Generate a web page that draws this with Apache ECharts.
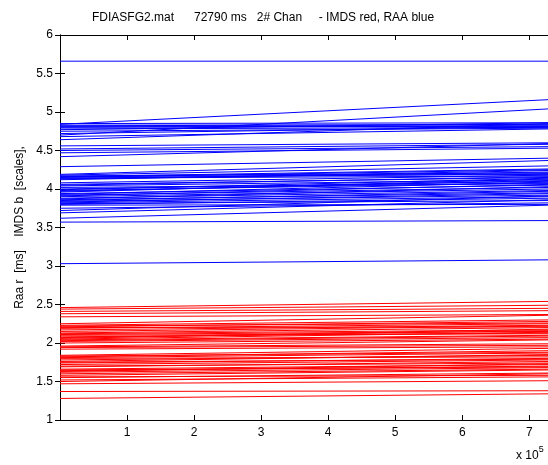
<!DOCTYPE html>
<html>
<head>
<meta charset="utf-8">
<script src="https://cdn.jsdelivr.net/npm/echarts@6/dist/echarts.min.js"></script>
<style>html,body{margin:0;padding:0;background:#fff}#c{width:548px;height:465px}</style>
</head>
<body>
<div id="c"></div>
<script>
var titleText = 'FDIASFG2.mat      72790 ms   2# Chan     - IMDS red, RAA blue';
var yAxisName = 'Raa r  [ms]    IMDS b  [scales],';
var xMax = 727900;
var xTicks = ['1', '2', '3', '4', '5', '6', '7'];
// blue lines (RAA): value at start and at end of record
var blueStart = [5.66, 4.84, 4.70, 4.85, 4.82, 4.80, 4.78, 4.75, 4.72, 4.68, 4.64, 4.56, 4.52, 4.50, 4.47, 4.42,
  4.29, 4.19, 4.18, 4.16, 4.15, 4.14, 4.13, 4.08, 4.06, 4.04, 4.00, 3.98, 3.96, 3.94, 3.92, 3.90, 3.88, 3.86,
  3.84, 3.82, 3.80, 3.79, 3.75, 3.72, 3.69, 3.62, 3.57, 3.03,
  3.99, 3.97, 3.93, 3.91, 3.87, 3.85, 3.83, 4.17, 4.16, 4.14, 4.12, 4.05, 4.02, 3.81, 4.83, 4.77, 4.81];
var blueEnd = [5.66, 5.16, 5.04, 4.86, 4.84, 4.82, 4.80, 4.79, 4.81, 4.78, 4.85, 4.60, 4.58, 4.55, 4.53, 4.59,
  4.40, 4.37, 4.30, 4.26, 4.25, 4.20, 4.22, 4.18, 4.15, 4.12, 4.10, 4.08, 4.13, 4.05, 4.02, 4.00, 3.98, 3.95,
  3.92, 3.90, 3.88, 3.80, 3.82, 3.91, 3.86, 3.79, 3.59, 3.08,
  4.14, 4.11, 4.09, 4.06, 4.03, 3.97, 3.94, 4.21, 4.19, 4.17, 4.24, 4.16, 4.07, 3.85, 4.83, 4.86, 4.81];
// red lines (IMDS)
var redStart = [2.46, 2.44, 2.41, 2.38, 2.34, 2.25, 2.23, 2.21, 2.19, 2.17, 2.13, 2.11, 2.08, 2.06, 2.04, 2.02,
  2.00, 1.96, 1.94, 1.92, 1.84, 1.82, 1.81, 1.76, 1.74, 1.72, 1.70, 1.66, 1.64, 1.62, 1.60, 1.58, 1.56, 1.52,
  1.50, 1.47, 1.37, 1.28,
  2.22, 2.20, 2.15, 2.12, 2.10, 2.07, 2.05, 2.03, 1.95, 1.83, 1.80, 1.78, 1.75, 1.69, 1.65, 1.63, 1.55];
var redEnd = [2.54, 2.49, 2.45, 2.42, 2.37, 2.36, 2.30, 2.28, 2.25, 2.23, 2.20, 2.15, 2.13, 2.18, 2.10, 2.07,
  2.05, 2.04, 1.97, 1.95, 1.93, 1.90, 1.87, 1.85, 1.80, 1.78, 1.74, 1.72, 1.70, 1.68, 1.66, 1.65, 1.58, 1.56,
  1.60, 1.51, 1.38, 1.34,
  2.26, 2.21, 2.22, 2.17, 2.12, 2.16, 2.14, 2.09, 1.99, 1.88, 1.82, 1.84, 1.79, 1.76, 1.69, 1.73, 1.61];

var FONT = 'Liberation Sans, Arial, sans-serif';
var series = [];
function addLines(starts, ends, color) {
  for (var i = 0; i < starts.length; i++) {
    series.push({
      type: 'line', symbol: 'none', silent: true, animation: false,
      lineStyle: { color: color, width: 1 },
      data: [[0, starts[i]], [xMax, ends[i]]]
    });
  }
}
addLines(redStart, redEnd, '#ff0000');
addLines(blueStart, blueEnd, '#0000ff');

var axisCommon = {
  axisLine: { show: true, lineStyle: { color: '#000', width: 1 } },
  axisTick: { show: true, inside: true, length: 5, lineStyle: { color: '#000' } },
  splitLine: { show: false }
};

var chart = echarts.init(document.getElementById('c'), null, { renderer: 'canvas' });
chart.setOption({
  animation: false,
  backgroundColor: '#fff',
  grid: { left: 60, right: 0, top: 35, bottom: 45 },
  xAxis: [
    Object.assign({
      type: 'value', min: 0, max: xMax, interval: 100000, position: 'bottom',
      axisLabel: {
        showMaxLabel: false, showMinLabel: false, margin: 7,
        color: '#000', fontFamily: FONT, fontSize: 12,
        formatter: function (v) { var k = Math.round(v / 100000); return (k >= 1 && k <= xTicks.length) ? xTicks[k - 1] : ''; }
      }
    }, axisCommon),
    Object.assign({
      type: 'value', min: 0, max: xMax, interval: 100000, position: 'top',
      axisLabel: { show: false }
    }, axisCommon)
  ],
  yAxis: [
    Object.assign({
      type: 'value', min: 1, max: 6, interval: 0.5, position: 'left',
      name: yAxisName, nameLocation: 'middle', nameGap: 33, nameRotate: 90,
      nameTextStyle: { color: '#000', fontFamily: FONT, fontSize: 12 },
      axisLabel: { color: '#000', fontFamily: FONT, fontSize: 12, margin: 7 }
    }, axisCommon),
    Object.assign({
      type: 'value', min: 1, max: 6, interval: 0.5, position: 'right',
      axisLabel: { show: false }
    }, axisCommon)
  ],
  graphic: [
    { type: 'text', left: 92, top: 12, style: { text: titleText, fill: '#000', font: '12px ' + FONT } },
    { type: 'text', left: 516, top: 445, style: {
        text: '{a|x 10}{b|5}', fill: '#000',
        rich: { a: { fontFamily: FONT, fontSize: 12, fill: '#000', verticalAlign: 'bottom' },
                b: { fontFamily: FONT, fontSize: 9, fill: '#000', verticalAlign: 'top', padding: [0, 0, 8, 0] } }
    } }
  ],
  series: series
});
</script>
</body>
</html>
